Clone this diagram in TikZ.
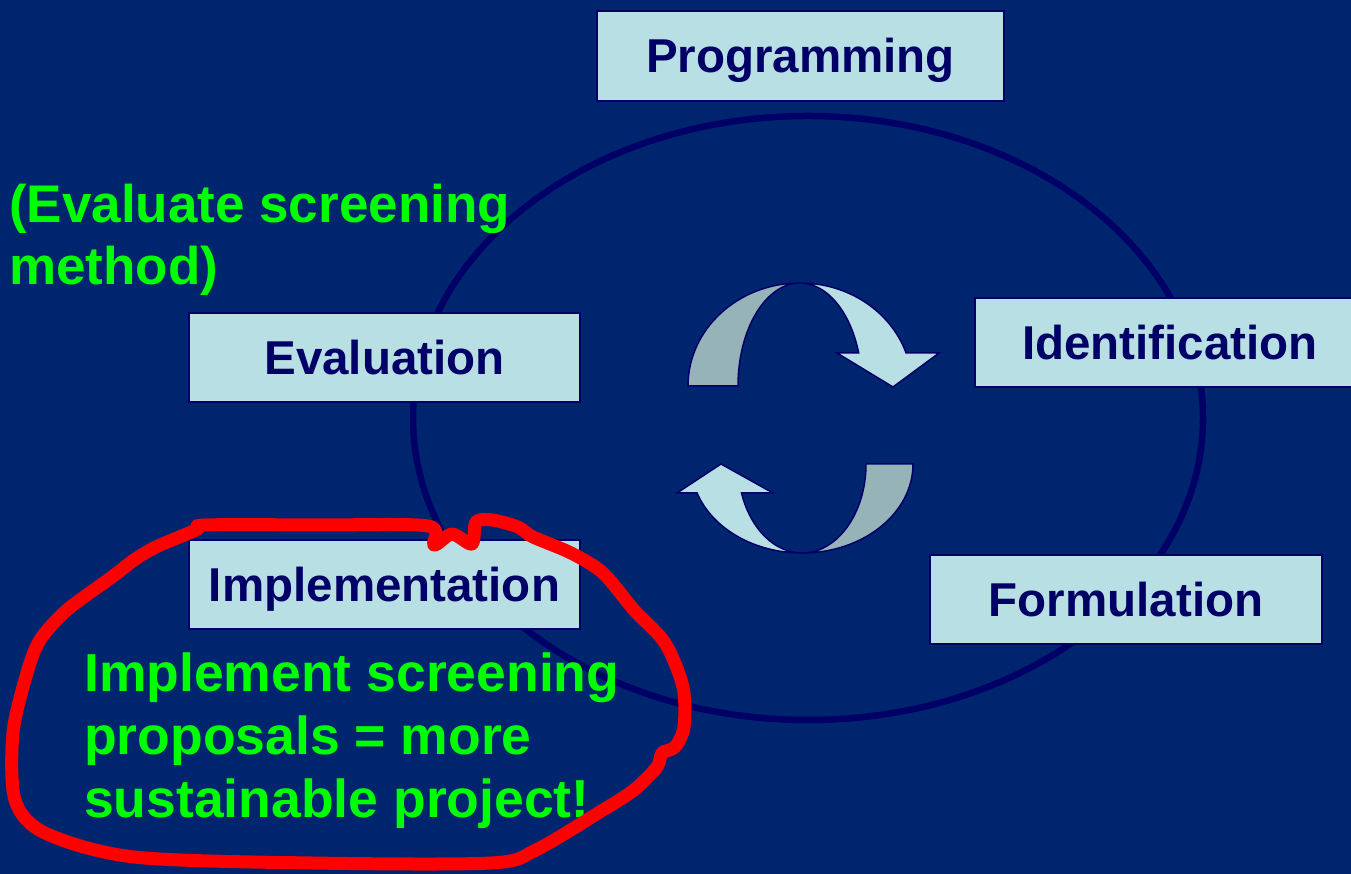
\documentclass[tikz,border=0pt]{standalone}
\usepackage{fontspec}
\setmainfont{Liberation Sans}
\definecolor{bg}{HTML}{00256F}
\definecolor{navy}{HTML}{000066}
\definecolor{boxfill}{HTML}{B8DFE3}
\definecolor{shade}{HTML}{96B3B8}
\definecolor{glime}{HTML}{00FF00}
\begin{document}
\begin{tikzpicture}[x=1pt,y=1pt,
 stagebox/.style={draw=navy, line width=2pt, fill=boxfill, text=navy, font=\bfseries\fontsize{47.5}{57}\selectfont, inner sep=0pt, text height=34pt, text depth=0pt, minimum height=89pt},
 note/.style={text=glime, font=\bfseries\fontsize{53}{62}\selectfont, align=left, inner sep=0pt, anchor=north west},
 ribbon/.style={draw=navy, line width=1.5pt, line join=miter}]
\useasboundingbox (0,0) rectangle (1351,874);
\clip (0,0) rectangle (1351,874);
\fill[bg] (0,0) rectangle (1351,874);
\draw[navy, line width=6.5pt] (808,456) ellipse [x radius=395, y radius=302];

\node[stagebox, minimum width=407pt, minimum height=90pt] (prog) at (800.5,818) {Programming};
\node[stagebox, minimum width=391pt] (eval) at (384.5,516.5) {Evaluation};
\node[stagebox, minimum width=390pt] (ident) at (1170,531.5) {Identification};
\node[stagebox, minimum width=391pt] (impl) at (384.5,289.5) {Implementation};
\node[stagebox, minimum width=392pt] (form) at (1126,274.5) {Formulation};

\filldraw[ribbon, fill=shade] (688,488) arc[start angle=180, end angle=90, x radius=112, y radius=103] arc[start angle=90, end angle=180, x radius=62, y radius=103] -- cycle;
\filldraw[ribbon, fill=boxfill] (800,591) arc[start angle=90, end angle=18.7, x radius=112, y radius=103] -- (939,521) -- (893,487) -- (837,521) -- (858.7,521) arc[start angle=18.7, end angle=90, x radius=62, y radius=103] -- cycle;

\filldraw[ribbon, fill=shade] (913,410) arc[start angle=0, end angle=-90, x radius=111, y radius=89] arc[start angle=-90, end angle=0, x radius=64, y radius=89] -- cycle;
\filldraw[ribbon, fill=boxfill] (802,321) arc[start angle=-90, end angle=-161, x radius=111, y radius=89] -- (677,381) -- (721,410) -- (773,381) -- (741.5,381) arc[start angle=-161, end angle=-90, x radius=64, y radius=89] -- cycle;

\node[note] (evalnote) at (9,690) {(Evaluate screening\\method)};
\node[note, font=\bfseries\fontsize{53.5}{63}\selectfont] (implnote) at (84,221) {Implement screening\\proposals = more\\sustainable project!};

\draw[red, line width=13pt, line join=round] plot[smooth cycle, tension=0.5] coordinates {
(205,349) (320,349) (428,348) (434,329) (452,340) (472,330) (476,352) (492,354) (518,347) (533,337) (571,321) (603,301) (634,264) (665,231) (683,187) (684,147) (675,127) (662,121) (657,107) (634,84) (603,64) (536,24) (491,11) (312,11) (134,17) (45,41) (15,74) (13,141) (27,201) (40,234) (67,264) (112,297) (134,314) (156,327) (196,344)};
\end{tikzpicture}
\end{document}
